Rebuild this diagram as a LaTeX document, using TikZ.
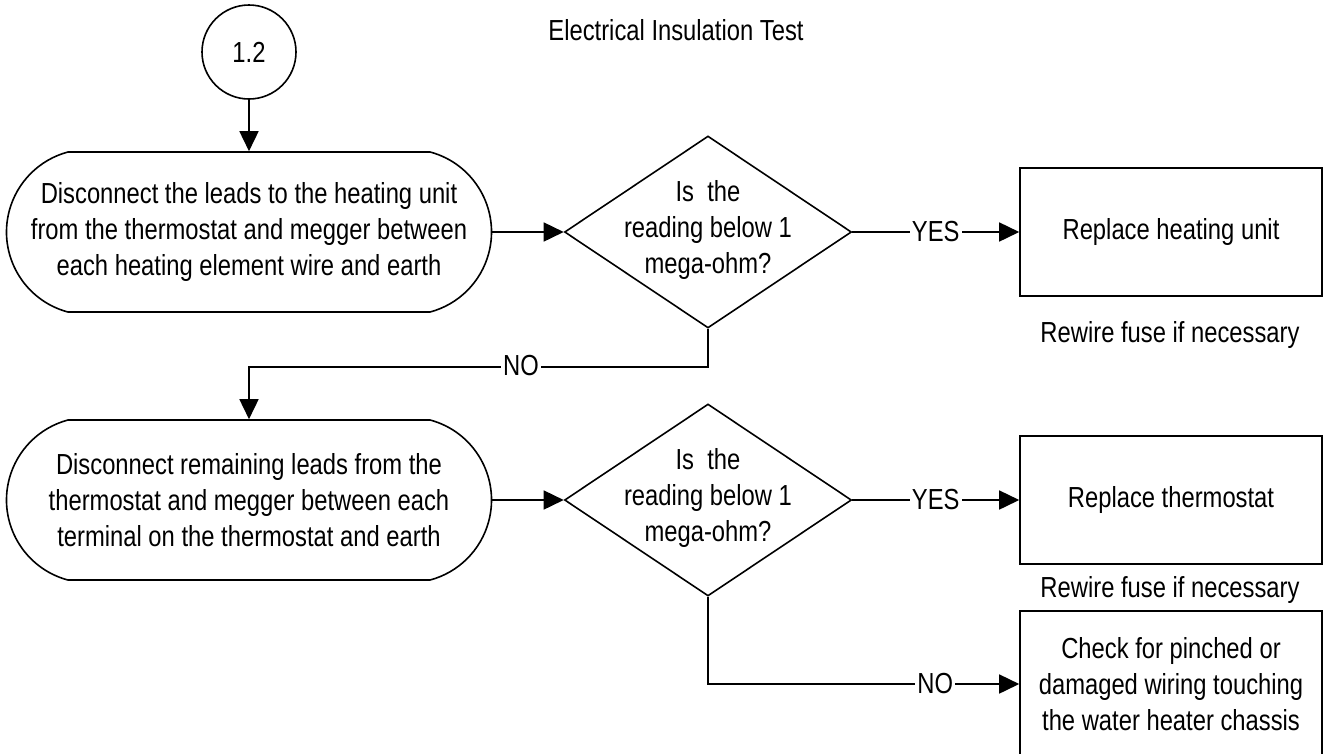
\documentclass[tikz,border=0pt]{standalone}
\usepackage{fontspec}
\setmainfont{Liberation Sans}[FakeStretch=0.82]
\usetikzlibrary{shapes.geometric,shapes.misc,arrows.meta}
\begin{document}
\begin{tikzpicture}[x=1pt,y=-1pt,
  every node/.style={font=\fontsize{29}{36}\selectfont, inner sep=0pt},
  term/.style={draw, line width=1.6pt, rounded rectangle, rounded rectangle arc length=150, minimum width=485pt, minimum height=160pt, align=center},
  dec/.style={draw, line width=1.6pt, diamond, minimum width=287pt, minimum height=192pt},
  box/.style={draw, line width=1.6pt, rectangle, minimum width=302pt, minimum height=128pt, align=center},
  conn/.style={draw, circle, line width=1.6pt, minimum size=94pt},
  txt/.style={align=center},
  lab/.style={fill=white, inner xsep=2pt, inner ysep=1pt},
  arr/.style={line width=1.6pt, -{Triangle[length=20pt,width=19pt]}}
]
\clip (0,0) rectangle (1324,753);
\fill[white] (0,0) rectangle (1324,753);

\node (title) at (676,30) {Electrical Insulation Test};

\node[conn] (c) at (249,52) {1.2};
\node[term] (t1) at (249,232) {Disconnect the leads to the heating unit\\from the thermostat and megger between\\each heating element wire and earth};
\node[dec] (d1) at (708,232) {};
\node[txt] (d1t) at (708,230) {Is~ the\\reading below 1\\mega-ohm?};
\node[box] (b1) at (1171,232) {Replace heating unit};
\node (r1) at (1170,335) {Rewire fuse if necessary};

\node[term] (t2) at (249,500) {Disconnect remaining leads from the\\thermostat and megger between each\\terminal on the thermostat and earth};
\node[dec] (d2) at (708,500) {};
\node[txt] (d2t) at (708,498) {Is~ the\\reading below 1\\mega-ohm?};
\node[box] (b2) at (1171,500) {Replace thermostat};
\node (r2) at (1170,590) {Rewire fuse if necessary};
\node[box, minimum height=146pt] (b3) at (1171,684) {Check for pinched or\\damaged wiring touching\\the water heater chassis};

\draw[arr] (c.south) -- (t1.north);
\draw[arr] (t1.east) -- (d1.west);
\draw[arr] (d1.east) -- node[lab]{YES} (b1.west);
\draw[arr] (d1.south) -- ++(0,38) -| (t2.north);
\node[lab] (no1) at (521,366) {NO};

\draw[arr] (t2.east) -- (d2.west);
\draw[arr] (d2.east) -- node[lab]{YES} (b2.west);
\draw[arr] (d2.south) |- node[lab, pos=0.865]{NO} (b3.west);
\end{tikzpicture}
\end{document}
